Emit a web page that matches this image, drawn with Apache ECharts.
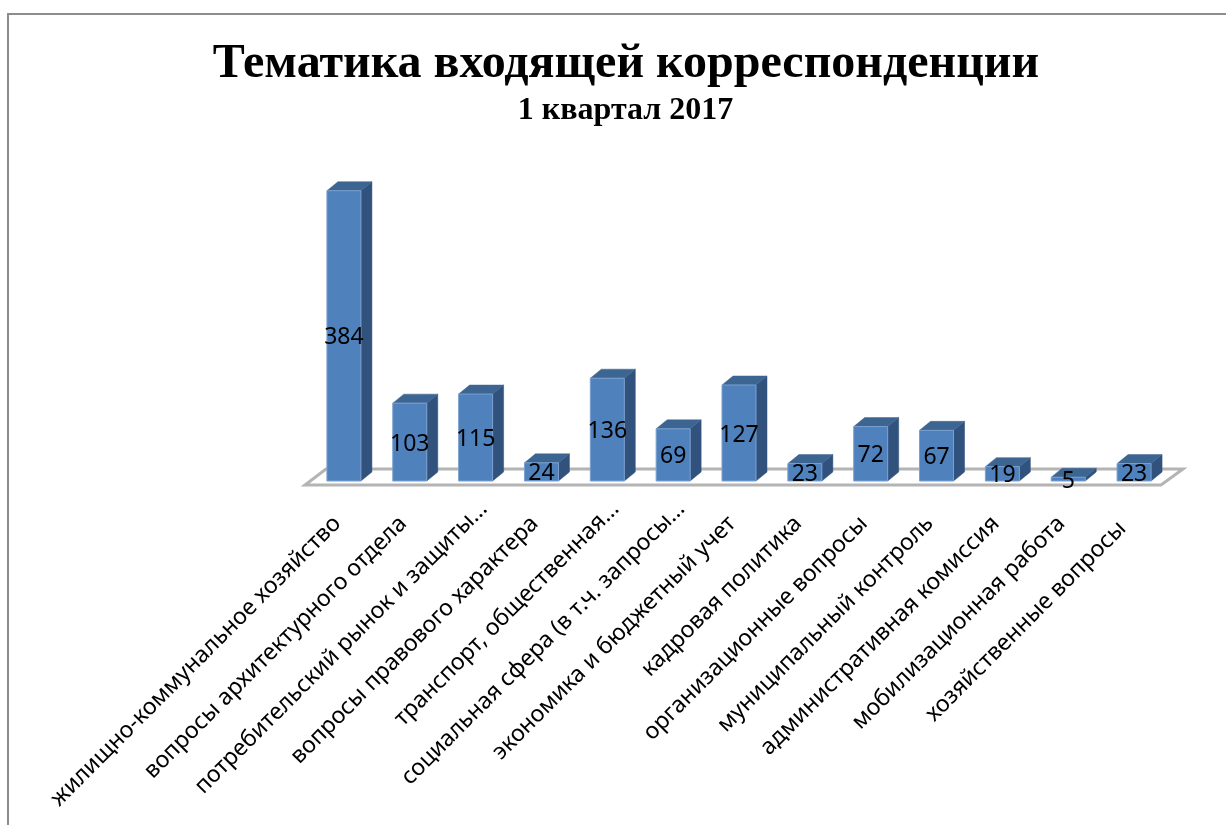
<!DOCTYPE html>
<html><head><meta charset="utf-8">
<style>html,body{margin:0;padding:0;background:#fff}#c{width:1231px;height:825px}</style>
<script src="https://cdn.jsdelivr.net/npm/echarts@6/dist/echarts.min.js"></script>
</head><body><div id="c"></div>
<script>
const titleText = 'Тематика входящей корреспонденции';
const subtitleText = '1 квартал 2017';
const categories = ['жилищно-коммунальное хозяйство','вопросы архитектурного отдела','потребительский рынок и защиты…','вопросы правового характера','транспорт, общественная…','социальная сфера (в т.ч. запросы…','экономика и бюджетный учет','кадровая политика','организационные вопросы','муниципальный контроль','административная комиссия','мобилизационная работа','хозяйственные вопросы'];
const values = [384,103,115,24,136,69,127,23,72,67,19,5,23];

const BAR_W = 34, DX = 11, DY = 9;
const chart = echarts.init(document.getElementById('c'), null, {renderer:'canvas'});

function labelPadding(name, i){
  if (name.endsWith('…')) return [0,0,0,0];
  if (i === categories.length-1) return [0,28,0,0];
  return [0,21,0,0];
}
function renderFloor(params, api){
  const cs = params.coordSys;
  const y0 = api.coord([0,0])[1];
  const l = cs.x, r = cs.x + cs.width;
  return {type:'polygon', shape:{points:[[l-6,y0+4],[r-6,y0+4],[r+16,y0-12],[l+15,y0-12]]},
    style:{fill:'#ffffff',stroke:'#b4b4b4',lineWidth:3}};
}
function renderBar(params, api){
  const idx = api.value(0), v = api.value(1);
  const top = api.coord([idx,v]), base = api.coord([idx,0]);
  const xl = top[0]-BAR_W/2, xr = top[0]+BAR_W/2, yt = top[1], yb = base[1];
  const poly = (pts,fill)=>({type:'polygon',shape:{points:pts},style:{fill:fill,stroke:fill,lineWidth:0.5}});
  return {type:'group',children:[
    poly([[xr,yt],[xr+DX,yt-DY],[xr+DX,yb-DY],[xr,yb]],'#30527c'),
    poly([[xl,yt],[xl+DX,yt-DY],[xr+DX,yt-DY],[xr,yt]],'#3c6592'),
    {type:'rect',shape:{x:xl,y:yt,width:BAR_W,height:yb-yt},style:{fill:'#4f81bd',stroke:'#7ba0cf',lineWidth:1}},
    {type:'text',style:{text:String(v),x:top[0],y:(yt+yb)/2+2,align:'center',verticalAlign:'middle',
      font:'23px "Noto Sans"',fill:'#000'}}
  ]};
}
chart.setOption({
  animation:false,
  backgroundColor:'#fff',
  title:[
    {text:titleText,left:621,top:36,textAlign:'center',textStyle:{fontFamily:'Liberation Serif',fontWeight:'bold',fontSize:48,color:'#000'}},
    {text:subtitleText,left:620.5,top:90,textAlign:'center',textStyle:{fontFamily:'Liberation Serif',fontWeight:'bold',fontSize:32,color:'#000'}}
  ],
  graphic:[{type:'polyline',shape:{points:[[8,830],[8,14],[1226,14]]},style:{fill:null,stroke:'#8c8c8c',lineWidth:2},silent:true}],
  grid:{left:311,right:64,top:178.6,bottom:344,containLabel:false},
  xAxis:{type:'category',
    data:categories.map((n,i)=>({value:n,textStyle:{padding:labelPadding(n,i),verticalAlign:'top'}})),
    axisLine:{show:false},axisTick:{show:false},
    axisLabel:{interval:0,rotate:45,margin:16,fontFamily:'Noto Sans',fontSize:23,color:'#000',hideOverlap:false}},
  yAxis:{type:'value',min:0,max:400,show:false,splitLine:{show:false}},
  series:[
    {type:'custom',coordinateSystem:'cartesian2d',renderItem:renderFloor,data:[[0,0]],z:1,silent:true},
    {type:'custom',coordinateSystem:'cartesian2d',renderItem:renderBar,encode:{x:0,y:1},z:2,
      data:values.map((v,i)=>[i,v])}
  ]
});
</script></body></html>
